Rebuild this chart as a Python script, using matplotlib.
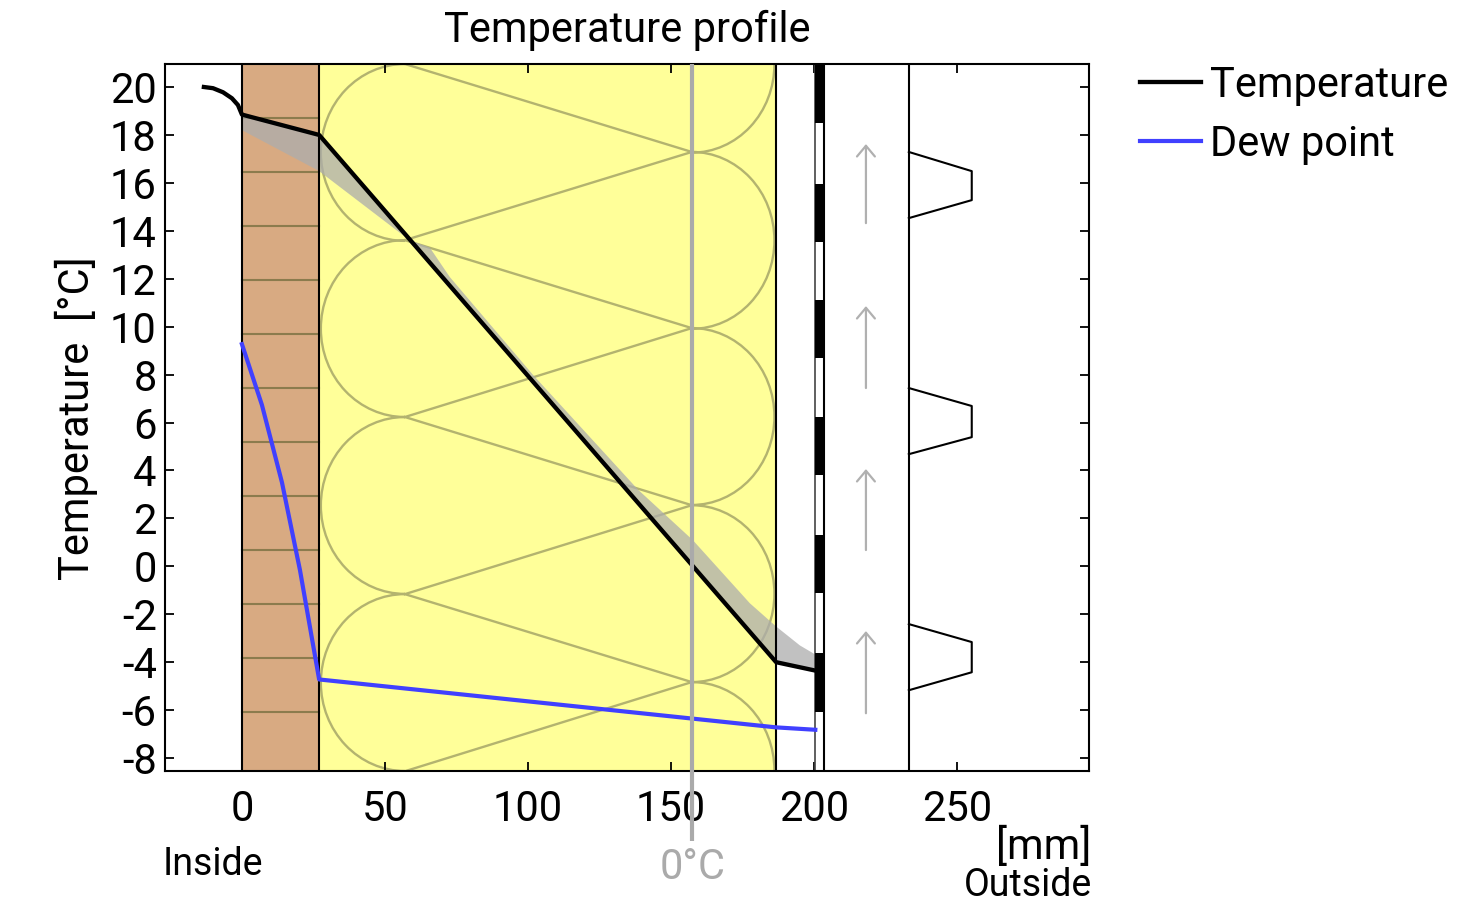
import matplotlib
matplotlib.use("Agg")
import matplotlib.pyplot as plt
from matplotlib.patches import Arc, Rectangle

plt.rcParams['font.family'] = ['Roboto', 'DejaVu Sans']
plt.rcParams['axes.unicode_minus'] = False

W, H = 1457, 921
# ---- data ----
temp_x = [-13.3, -10.1, -6.6, -3.5, -1.4, 0, 27, 186.8, 200.5]
temp_y = [20.0, 19.95, 19.78, 19.53, 19.25, 18.85, 18.0, -4.0, -4.35]
dew_x = [0, 7, 14, 20.3, 27, 186.8, 200.5]
dew_y = [9.27, 6.73, 3.5, -0.16, -4.72, -6.72, -6.82]
band_x = [0, 26.9, 58.7, 65.7, 72.7, 101.7, 138.5, 157.7, 177.6, 186.7, 195.1, 200.5]
band_y = [18.2, 16.5, 13.6, 13.3, 12.07, 8.0, 3.2, 1.09, -1.54, -2.5, -3.3, -3.68]

xlim = (-26.9, 296.2)
ylim = (-8.54, 20.96)
x_ticks = [0, 50, 100, 150, 200, 250]
y_ticks = list(range(-8, 22, 2))

brick_x = (0, 27)
wool_x = (27, 186.8)
stripe_x = (200.5, 203.4)
air_end = 233.2
zero_x = 157.5
zero_bottom = -11.47

brick_lines = [18.7, 16.45, 14.2, 11.95, 9.69, 7.44, 5.19, 2.93, 0.68, -1.58, -3.83, -6.09]
wool_left_x = 57
wool_right_x = 157.3
wool_left_y = [20.96, 13.61, 6.23, -1.16, -8.55]
wool_right_y = [24.64, 17.29, 9.94, 2.55, -4.83]
wool_rx_left = 29.4
wool_rx_right = 28.9
wool_ry = 3.69

stripe_top = [20.96, 15.95, 11.11, 6.23, 1.30, -3.62]
stripe_bot = [18.51, 13.54, 8.69, 3.81, -1.12, -6.09]

arrow_x = 218.2
arrow_from = [14.32, 7.44, 0.68, -6.13]
arrow_to = [17.62, 10.86, 4.06, -2.70]

chev_x = [233.2, 255.2, 255.2, 233.2]
chev_ys = [[17.29, 16.49, 15.28, 14.53],
           [7.44, 6.69, 5.39, 4.68],
           [-2.41, -3.16, -4.42, -5.17]]

# ---- colours ----
BRICK = '#d8aa82'
WOOL = '#ffff99'
WOOL_LINE = '#b3b36f'
BRICK_LINE = '#8b7b4d'
ZERO = '#aaaaaa'
BLUE = '#4040ff'

fig = plt.figure(figsize=(W / 100, H / 100), dpi=100)
ax = fig.add_axes([165 / W, 1 - 771 / H, (1089 - 165) / W, (771 - 64) / H])
ax.set_xlim(*xlim)
ax.set_ylim(*ylim)

ax.axvspan(*brick_x, color=BRICK, lw=0, zorder=0.5)
ax.axvspan(*wool_x, color=WOOL, lw=0, zorder=0.5)

for y in brick_lines:
    ax.plot(brick_x, [y, y], color=BRICK_LINE, lw=1.5, zorder=1)

# mineral-wool pattern
for y in wool_left_y[:-1]:
    ax.add_patch(Arc((wool_left_x, y - wool_ry), 2 * wool_rx_left, 2 * wool_ry, theta1=90, theta2=270,
                     color=WOOL_LINE, lw=1.7, zorder=1))
for y in wool_right_y:
    ax.add_patch(Arc((wool_right_x, y - wool_ry), 2 * wool_rx_right, 2 * wool_ry, theta1=-90, theta2=90,
                     color=WOOL_LINE, lw=1.7, zorder=1))
for yr in wool_right_y[1:]:
    for yl in wool_left_y:
        if abs(yr - yl) < 4.5:
            ax.plot([wool_left_x, wool_right_x], [yl, yr], color=WOOL_LINE, lw=1.7, zorder=1)

# condensation-risk band
start = temp_x.index(0)
ax.fill(temp_x[start:] + band_x[::-1], temp_y[start:] + band_y[::-1],
        color=(0.68, 0.68, 0.68), alpha=0.75, lw=0, zorder=1.5)

# layer boundaries
for x in [brick_x[0], brick_x[1], wool_x[1], air_end]:
    ax.axvline(x, color='black', lw=1.5, zorder=2)

# vapour barrier stripes
ax.axvline(stripe_x[0], color='#444444', lw=1.2, zorder=2)
ax.axvline(stripe_x[1], color='black', lw=1.5, zorder=2)
for t, b in zip(stripe_top, stripe_bot):
    ax.add_patch(Rectangle((stripe_x[0], b), stripe_x[1] - stripe_x[0], t - b, color='black', lw=0, zorder=2))

# air-gap arrows
for a, b in zip(arrow_from, arrow_to):
    ax.annotate('', xy=(arrow_x, b), xytext=(arrow_x, a),
                arrowprops=dict(arrowstyle='->,head_length=0.55,head_width=0.46', color='#b0b0b0',
                                lw=1.6, shrinkA=0, shrinkB=0, mutation_scale=14), zorder=2)

# cladding profiles
for ys in chev_ys:
    ax.plot(chev_x, ys, color='black', lw=1.5, zorder=2)

line_t, = ax.plot(temp_x, temp_y, color='black', lw=3.1, zorder=3, label='Temperature')
line_d, = ax.plot(dew_x, dew_y, color=BLUE, lw=3, zorder=3, label='Dew point')

ax.plot([zero_x, zero_x], [ylim[1], zero_bottom], color=ZERO, lw=3, clip_on=False, zorder=4,
        solid_capstyle='butt')

ax.set_xticks(x_ticks)
ax.set_yticks(y_ticks)
ax.tick_params(axis='both', direction='in', length=6.5, width=1.3, top=True, right=True,
               labelsize=30, zorder=2.2)
ax.tick_params(axis='x', pad=13)
ax.tick_params(axis='y', pad=6)
for lab in ax.get_yticklabels():
    lab.set_verticalalignment('center_baseline')
for s in ax.spines.values():
    s.set_linewidth(1.5)


def ftext(px, py, s, **kw):
    fig.text(px / W, 1 - py / H, s, va='center', **kw)


ftext(627, 30, 'Temperature profile', ha='center', fontsize=30)
ftext(76, 418, 'Temperature  [°C]', ha='center', rotation=90, fontsize=30)
ftext(163, 864, 'Inside', ha='left', fontsize=27)
ftext(1091, 847, '[mm]', ha='right', fontsize=30)
ftext(1092, 885, 'Outside', ha='right', fontsize=27)
ftext(692.5, 867, '0°C', ha='center', fontsize=30, color=ZERO)

ax.legend(handles=[line_t, line_d], loc='upper left', bbox_to_anchor=(1140 / W, 1 - 65 / H),
          bbox_transform=fig.transFigure, frameon=False, fontsize=30, borderaxespad=0, borderpad=0,
          handlelength=1.47, handletextpad=0.2, labelspacing=0.43)

fig.savefig('out.png', dpi=100)
